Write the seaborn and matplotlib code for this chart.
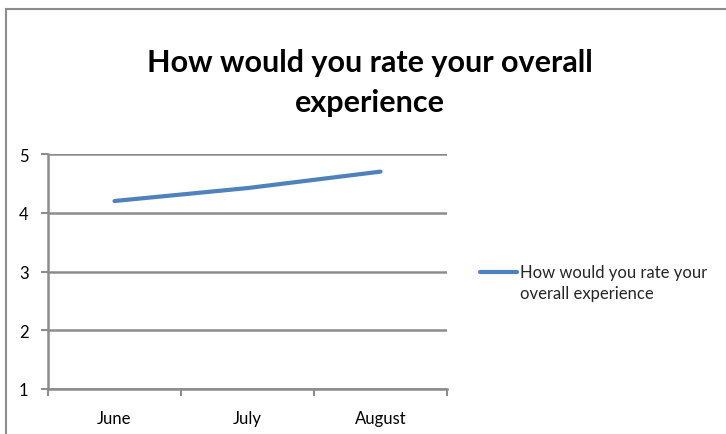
import matplotlib
matplotlib.use("Agg")
import matplotlib.pyplot as plt
from matplotlib.patches import Rectangle
import seaborn as sns
import pandas as pd

months = ["June", "July", "August"]
ratings = [4.2, 4.42, 4.7]
series_name = "How would you rate your overall experience"
y_ticks = [1, 2, 3, 4, 5]

sns.set_theme(style="white")
plt.rcParams["font.family"] = ["Lato", "DejaVu Sans"]

W, H = 726, 435
fig = plt.figure(figsize=(W / 100, H / 100), dpi=100)
fig.patch.set_facecolor("white")

# chart frame
fig.patches.append(Rectangle((6 / W, -0.05), 1.1, (H - 10) / H + 0.05,
                             transform=fig.transFigure, fill=False,
                             edgecolor="#8c8c8c", linewidth=1.5))

ax = fig.add_axes([48 / W, (H - 390) / H, (447 - 48) / W, (390 - 155) / H])

df = pd.DataFrame({"month": months, "rating": ratings})
df["pos"] = range(len(months))
sns.lineplot(data=df, x="pos", y="rating", ax=ax, color="#4f81bd",
             linewidth=3.0, label=series_name, solid_capstyle="round")

grid_c = "#8c8c8c"
ax.set_ylim(1, 5)
ax.set_xlim(-0.5, len(months) - 0.5)
ax.set_yticks(y_ticks)
ax.set_yticklabels([str(t) for t in y_ticks], fontsize=12, color="black")
for t in y_ticks:
    ax.axhline(t, color=grid_c, linewidth=1.8, zorder=0)

ax.set_xticks([i - 0.5 for i in range(len(months) + 1)])
ax.set_xticklabels([])
ax.set_xticks(list(range(len(months))), minor=True)
ax.set_xticklabels(months, minor=True, fontsize=12, color="black")
ax.tick_params(axis="x", which="major", bottom=True, length=5, width=1.5,
               color=grid_c, direction="out")
ax.tick_params(axis="x", which="minor", bottom=True, length=0, pad=15)
ax.tick_params(axis="y", left=True, length=5, width=1.5, color=grid_c,
               direction="out", pad=9)
ax.set_xlabel("")
ax.set_ylabel("")

for side in ["top", "right"]:
    ax.spines[side].set_visible(False)
ax.spines["left"].set_color(grid_c)
ax.spines["left"].set_linewidth(1.8)
ax.spines["bottom"].set_color(grid_c)
ax.spines["bottom"].set_linewidth(1.8)

leg = ax.legend(loc="upper left", bbox_to_anchor=(480 / W, (H - 265) / H),
                bbox_transform=fig.transFigure, frameon=False,
                borderaxespad=0, borderpad=0,
                fontsize=12, handlelength=2.2, handletextpad=0.2,
                labels=["How would you rate your\noverall experience"])
for t in leg.get_texts():
    t.set_linespacing(1.35)
# align the legend swatch with the first line of the label
for h in leg.legend_handles:
    h.set_ydata([v + 8.0 for v in h.get_ydata()])

fig.text(370 / W, (H - 83) / H, "How would you rate your overall\nexperience",
         ha="center", va="center", fontsize=22, fontweight="bold",
         linespacing=1.5, color="black")

fig.savefig("out.png", dpi=100)
